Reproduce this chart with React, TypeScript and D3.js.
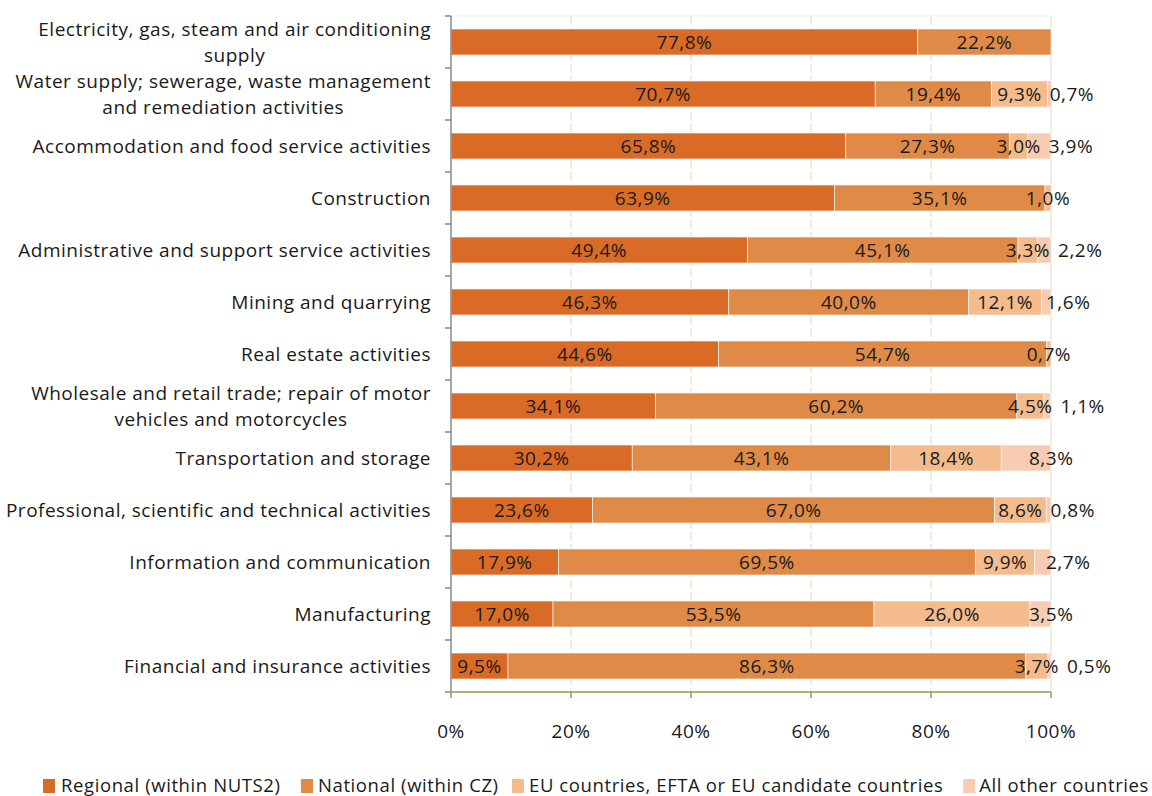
import React from "react";
import * as d3 from "d3";

const categories = [
  "Electricity, gas, steam and air conditioning\nsupply",
  "Water supply; sewerage, waste management\nand remediation activities",
  "Accommodation and food service activities",
  "Construction",
  "Administrative and support service activities",
  "Mining and quarrying",
  "Real estate activities",
  "Wholesale and retail trade; repair of motor\nvehicles and motorcycles",
  "Transportation and storage",
  "Professional, scientific and technical activities",
  "Information and communication",
  "Manufacturing",
  "Financial and insurance activities",
];
const regional = [77.8, 70.7, 65.8, 63.9, 49.4, 46.3, 44.6, 34.1, 30.2, 23.6, 17.9, 17.0, 9.5];
const national = [22.2, 19.4, 27.3, 35.1, 45.1, 40.0, 54.7, 60.2, 43.1, 67.0, 69.5, 53.5, 86.3];
const euEfta = [0, 9.3, 3.0, 1.0, 3.3, 12.1, 0.7, 4.5, 18.4, 8.6, 9.9, 26.0, 3.7];
const otherCountries = [0, 0.7, 3.9, 0, 2.2, 1.6, 0, 1.1, 8.3, 0.8, 2.7, 3.5, 0.5];
const seriesNames = [
  "Regional (within NUTS2)",
  "National (within CZ)",
  "EU countries, EFTA or EU candidate countries",
  "All other countries",
];
const seriesColors = ["#DA6B27", "#E08A47", "#F4BB8D", "#F7CCB2"];
const xTicks = [0, 20, 40, 60, 80, 100];

const FONT = "Open Sans";
const FS = 19;
const LS = 0.5;
const LEG_FS = 18.5;
const LEG_LS = 0.6;

let ctx: CanvasRenderingContext2D | null = null;
function measure(t: string, fs = FS, ls = LS): number {
  if (!ctx) {
    const c = document.createElement("canvas");
    ctx = c.getContext("2d");
  }
  if (!ctx) return t.length * fs * 0.5;
  ctx.font = `${fs}px "${FONT}"`;
  return ctx.measureText(t).width + ls * t.length;
}

const fmt = (v: number) => v.toFixed(1).replace(".", ",") + "%";

export default function App() {
  const W = 1152, H = 796;
  const x = d3.scaleLinear().domain([0, 100]).range([451, 1051]);
  const y = d3.scaleBand<string>().domain(categories).range([16, 692]).paddingInner(0.5).paddingOuter(0.25);
  const series = [regional, national, euEfta, otherCountries];
  const stackData = categories.map((c, i) => ({ c, s0: regional[i], s1: national[i], s2: euEfta[i], s3: otherCountries[i] }));
  const stacked = d3.stack<any>().keys(["s0", "s1", "s2", "s3"])(stackData);

  const textStyle: React.CSSProperties = { fontFamily: FONT, fontSize: FS, letterSpacing: LS, fill: "#1a1a1a" };
  const legendStyle: React.CSSProperties = { ...textStyle, fontSize: LEG_FS, letterSpacing: LEG_LS };

  const bars: React.ReactNode[] = [];
  const labels: React.ReactNode[] = [];
  categories.forEach((c, i) => {
    const by = y(c)!;
    const bh = y.bandwidth();
    const cy = by + bh / 2;
    let prevEnd = -Infinity;
    stacked.forEach((layer, k) => {
      const [a, b] = layer[i];
      const v = series[k][i];
      if (v <= 0) return;
      bars.push(
        <rect key={`b${i}-${k}`} x={x(a)} y={by} width={x(b) - x(a)} height={bh} fill={seriesColors[k]} stroke="#ffffff" strokeWidth={0.6} />
      );
      const t = fmt(v);
      const w = measure(t);
      let start = (x(a) + x(b)) / 2 - w / 2;
      if (k === 3) {
        const base = v < 3 ? x(100) - 5 : x(100) - 22;
        start = Math.max(base, prevEnd + 8);
      }
      prevEnd = start + w;
      labels.push(
        <text key={`l${i}-${k}`} x={start} y={cy} dy="0.35em" style={textStyle}>{t}</text>
      );
    });
  });

  const catLabels = categories.map((c, i) => {
    const lines = c.split("\n");
    const cy = y(c)! + y.bandwidth() / 2;
    const right = 431;
    const widths = lines.map((l) => measure(l));
    const bw = Math.max(...widths);
    const lh = 26;
    const top = cy - ((lines.length - 1) * lh) / 2;
    return lines.map((ln, j) => (
      <text
        key={`c${i}-${j}`}
        x={lines.length > 1 ? right - bw / 2 : right}
        y={top + j * lh}
        dy="0.35em"
        textAnchor={lines.length > 1 ? "middle" : "end"}
        style={textStyle}
      >
        {ln}
      </text>
    ));
  });

  const yTop = 16, yBot = 692;
  const boundaries = d3.range(categories.length + 1).map((i) => yTop + i * y.step());

  const lastW = measure(seriesNames[3], LEG_FS, LEG_LS);
  const lastTx = Math.min(990, 1149 - lastW);
  const legendItems = [
    { sx: 43, tx: 61 },
    { sx: 301, tx: 318 },
    { sx: 512, tx: 529 },
    { sx: lastTx - 16, tx: lastTx },
  ];

  return (
    <svg width={W} height={H} style={{ position: "absolute", left: 0, top: 0, background: "#fff" }}>
      {xTicks.slice(1).map((t) => (
        <line key={`g${t}`} x1={x(t)} x2={x(t)} y1={yTop} y2={yBot} stroke="#E8E8DC" strokeWidth={1.5} strokeDasharray={t === 100 ? undefined : "9,3"} />
      ))}
      <line x1={x(0)} x2={x(100)} y1={yTop} y2={yTop} stroke="#F0F0E6" strokeWidth={1} />
      {bars}
      {labels}
      <line x1={x(0)} x2={x(0)} y1={yTop} y2={yBot} stroke="#8A8A8A" strokeWidth={1.5} />
      {boundaries.map((b, i) => (
        <line key={`t${i}`} x1={x(0) - 6} x2={x(0)} y1={b} y2={b} stroke="#8A8A8A" strokeWidth={1.5} />
      ))}
      <line x1={x(0)} x2={x(100)} y1={yBot} y2={yBot} stroke="#9C9356" strokeWidth={1.5} />
      {xTicks.map((t) => (
        <g key={`xt${t}`}>
          <line x1={x(t)} x2={x(t)} y1={yBot} y2={yBot + 6} stroke="#9C9356" strokeWidth={1.5} />
          <text x={x(t)} y={731} dy="0.35em" textAnchor="middle" style={textStyle}>{`${t}%`}</text>
        </g>
      ))}
      {catLabels}
      {seriesNames.map((n, k) => (
        <g key={`lg${k}`}>
          <rect x={legendItems[k].sx} y={779} width={12} height={14} fill={seriesColors[k]} />
          <text x={legendItems[k].tx} y={786} dy="0.35em" style={legendStyle}>{n}</text>
        </g>
      ))}
    </svg>
  );
}
